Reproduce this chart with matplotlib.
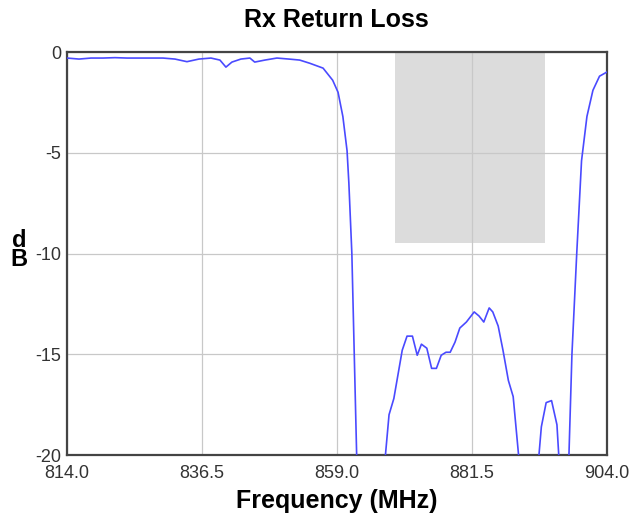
import matplotlib
matplotlib.use("Agg")
import matplotlib.pyplot as plt
from matplotlib.patches import Rectangle

plt.rcParams['font.family'] = ['Liberation Sans', 'DejaVu Sans']

# frequency (MHz) and return loss (dB)
freq = [814.0, 816.0, 818.0, 820.0, 822.0, 824.0, 826.0, 828.0, 830.0, 832.0,
        834.0, 836.0, 838.0, 839.5, 840.5, 841.5, 843.0, 844.5, 845.3, 847.0,
        849.0, 851.0, 852.8, 854.5, 856.7, 858.3, 859.2, 860.0, 860.7, 861.0,
        861.5, 862.3, 862.6,
        866.8, 867.1, 867.7, 868.5, 869.9, 870.7, 871.6, 872.4, 873.1, 874.0,
        874.8, 875.6, 876.4, 877.2, 877.9, 878.7, 879.5, 880.6, 881.9, 882.7,
        883.5, 884.4, 885.0, 885.9, 886.7, 887.6, 888.4, 889.3, 889.6,
        892.4, 892.7, 893.1, 893.9, 894.8, 895.7, 896.0, 896.3,
        897.4, 897.7, 898.2, 899.0, 899.8, 900.7, 901.7, 902.8, 904.0]
rl = [-0.30, -0.35, -0.30, -0.30, -0.28, -0.30, -0.30, -0.30, -0.30, -0.35,
      -0.48, -0.35, -0.30, -0.40, -0.75, -0.50, -0.35, -0.30, -0.50, -0.40,
      -0.30, -0.35, -0.40, -0.56, -0.80, -1.40, -2.00, -3.20, -4.90, -6.50,
      -10.0, -20.0, -30.0,
      -30.0, -20.0, -18.0, -17.2, -14.8, -14.1, -14.1, -15.05, -14.5, -14.7,
      -15.7, -15.7, -15.05, -14.9, -14.9, -14.4, -13.7, -13.4, -12.9, -13.1,
      -13.4, -12.7, -12.9, -13.6, -14.8, -16.3, -17.1, -20.0, -30.0,
      -30.0, -20.0, -18.6, -17.4, -17.3, -18.5, -20.0, -30.0,
      -30.0, -20.0, -15.0, -10.0, -5.4, -3.2, -1.9, -1.2, -1.0]

# grey mask region
mask_f = [868.7, 893.7]
mask_db = -9.5

x_ticks = [814.0, 836.5, 859.0, 881.5, 904.0]
y_ticks = [0, -5, -10, -15, -20]

fig = plt.figure(figsize=(6.4, 5.18), dpi=100)
ax = fig.add_axes([0.1047, 0.1216, 0.8433, 0.778])

ax.add_patch(Rectangle((mask_f[0], mask_db), mask_f[1] - mask_f[0], -mask_db,
                       facecolor='#dcdcdc', edgecolor='none', zorder=0))
ax.plot(freq, rl, color='#4a4aff', linewidth=1.2, zorder=3)

ax.set_xlim(814, 904)
ax.set_ylim(-20, 0)
ax.set_xticks(x_ticks)
ax.set_xticklabels(['%.1f' % t for t in x_ticks])
ax.set_yticks(y_ticks)
ax.set_yticklabels([str(t) for t in y_ticks])
ax.tick_params(length=0, labelsize=13, colors='#333333')
ax.tick_params(axis='x', pad=7)
ax.tick_params(axis='y', pad=4)
ax.grid(True, color='#c8c8c8', linewidth=0.9, zorder=1)
ax.set_axisbelow(True)
for s in ax.spines.values():
    s.set_color('#444444')
    s.set_linewidth(1.6)

ax.set_title('Rx Return Loss', fontsize=18, fontweight='bold', pad=18)
ax.set_xlabel('Frequency (MHz)', fontsize=18, fontweight='bold', labelpad=5)
fig.text(0.03, 0.517, 'd\nB', fontsize=17, fontweight='bold',
         ha='center', va='center', linespacing=0.8)

fig.savefig('out.png', dpi=100)
